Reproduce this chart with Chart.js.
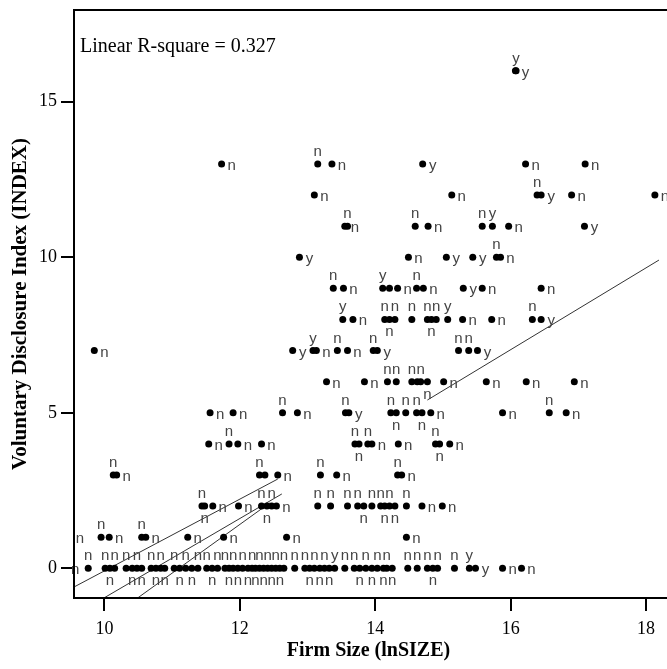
<!DOCTYPE html>
<html lang="en">
<head>
    <meta charset="UTF-8">
    <title>Firm Size vs Voluntary Disclosure</title>
    <style>
        body {
            margin: 0;
            padding: 0;
            background-color: #fff;
            overflow: hidden;
        }
    </style>
</head>
<body>

<canvas id="sizeChart" width="667" height="669"></canvas>

<script src="https://cdn.jsdelivr.net/npm/chart.js"></script>

<script>
    // Disclosure index values that have firms, and the firm sizes read for each of them
    const indexLevels = [0, 1, 2, 3, 4, 5, 6, 7, 8, 9, 10, 11, 12, 13, 16];

    const firmSizeByLevel = [
        [9.42, 9.76, 10.01, 10.08, 10.15, 10.32, 10.41, 10.48, 10.55, 10.69, 10.76, 10.83, 10.89,
         11.03, 11.11, 11.20, 11.29, 11.38, 11.51, 11.59, 11.67, 11.78, 11.84, 11.90, 11.97,
         12.04, 12.12, 12.18, 12.23, 12.29, 12.35, 12.41, 12.47, 12.53, 12.59, 12.65, 12.81,
         12.96, 13.03, 13.10, 13.18, 13.25, 13.32, 13.40, 13.55, 13.69, 13.77, 13.86, 13.95,
         14.03, 14.12, 14.17, 14.25, 14.48, 14.62, 14.77, 14.85, 14.92, 15.17, 15.39, 15.48,
         15.88, 16.16],
        [9.49, 9.95, 10.07, 10.55, 10.61, 11.23, 11.76, 12.69, 14.46],
        [11.44, 11.48, 11.60, 11.98, 12.32, 12.40, 12.47, 12.54, 13.15, 13.34, 13.59, 13.74,
         13.83, 13.95, 14.08, 14.14, 14.21, 14.29, 14.46, 14.69, 14.99],
        [10.13, 10.18, 12.29, 12.37, 12.56, 13.19, 13.43, 14.33, 14.39],
        [11.54, 11.84, 11.97, 12.32, 13.70, 13.76, 13.89, 13.95, 14.34, 14.89, 14.95, 15.10],
        [11.56, 11.90, 12.63, 12.85, 13.56, 13.61, 14.23, 14.31, 14.45, 14.61, 14.69, 14.82,
         15.88, 16.57, 16.82],
        [13.28, 13.84, 14.18, 14.31, 14.54, 14.62, 14.67, 14.77, 15.01, 15.64, 16.23, 16.94],
        [9.85, 12.78, 13.08, 13.13, 13.44, 13.59, 13.97, 14.03, 15.23, 15.38, 15.51],
        [13.52, 13.67, 14.14, 14.21, 14.29, 14.54, 14.77, 14.83, 14.90, 15.07, 15.29, 15.72,
         16.32, 16.45],
        [13.38, 13.53, 14.11, 14.21, 14.33, 14.61, 14.71, 15.30, 15.58, 16.45],
        [12.88, 14.49, 15.05, 15.44, 15.79, 15.85],
        [13.55, 13.59, 14.59, 14.78, 15.58, 15.73, 15.97, 17.09],
        [13.10, 15.13, 16.39, 16.45, 16.90, 18.13],
        [11.73, 13.15, 13.36, 14.70, 16.22, 17.10],
        [16.07, 16.08]
    ];

    // group letter shown beside each firm (same order as above)
    const groupByLevel = [
        'nnnnnnnnnnnnnnnnnnnnnnnnnnnnnnnnnnnnnnnnnnnynnnnnnnnnnnnnnnyynn',
        'nnnnnnnnn',
        'nnnnnnnnnnnnnnnnnnnnn',
        'nnnnnnnnn',
        'nnnnnnnnnnnn',
        'nnnnnynnnnnnnnn',
        'nnnnnnnnnnnn',
        'nyynnnnynny',
        'ynnnnnnnnynnny',
        'nnynnnnynn',
        'ynyynn',
        'nnnnnyny',
        'nnnynn',
        'nnnynn',
        'yy'
    ];

    // line segments drawn on the plot
    const fitLine = [{x: 14.77, y: 5.41}, {x: 18.19, y: 9.91}];
    const lowerLineA = [{x: 9.56, y: -0.59}, {x: 12.56, y: 2.87}];
    const lowerLineB = [{x: 9.98, y: -0.97}, {x: 12.62, y: 2.39}];
    const lowerLineC = [{x: 10.48, y: -0.97}, {x: 12.44, y: 2.10}];

    const xTicks = [10, 12, 14, 16, 18];
    const yTicks = [0, 5, 10, 15];
    const fitNote = 'Linear R-square = 0.327';

    const points = [];
    indexLevels.forEach((level, r) => {
        firmSizeByLevel[r].forEach((size, i) => {
            points.push({x: size, y: level, g: groupByLevel[r][i] || 'n'});
        });
    });

    function overlaps(a, b) {
        return a.x < b.x + b.w && a.x + a.w > b.x && a.y < b.y + b.h && a.y + a.h > b.y;
    }

    // put each letter right of its dot, else above, else below, else leave it out
    const pointLabels = {
        id: 'pointLabels',
        afterDatasetsDraw(chart) {
            const meta = chart.getDatasetMeta(0);
            const ctx = chart.ctx;
            const taken = meta.data.map(p => ({x: p.x - 3.5, y: p.y - 3.5, w: 7, h: 7}));
            ctx.save();
            ctx.font = '15px "Liberation Sans", Arial, sans-serif';
            ctx.fillStyle = '#444';
            ctx.textAlign = 'center';
            ctx.textBaseline = 'alphabetic';
            meta.data.forEach((p, i) => {
                const text = points[i].g;
                const spots = [[p.x + 10, p.y + 6], [p.x, p.y - 8], [p.x, p.y + 17]];
                for (const [cx, by] of spots) {
                    const box = {x: cx - 3.5, y: by - 8.5, w: 7, h: 8.5};
                    if (!taken.some(o => overlaps(box, o))) {
                        taken.push(box);
                        ctx.fillText(text, cx, by);
                        break;
                    }
                }
            });
            ctx.restore();
        }
    };

    const frame = {
        id: 'frame',
        afterDraw(chart) {
            const {ctx, chartArea: a} = chart;
            ctx.save();
            ctx.strokeStyle = '#000';
            ctx.lineWidth = 2;
            ctx.beginPath();
            ctx.moveTo(a.right + 4, a.top);
            ctx.lineTo(a.left, a.top);
            ctx.lineTo(a.left, a.bottom);
            ctx.lineTo(a.right + 4, a.bottom);
            ctx.stroke();
            ctx.font = '20px "Liberation Serif", "Times New Roman", serif';
            ctx.fillStyle = '#000';
            ctx.fillText(fitNote, a.left + 6, a.top + 42);
            ctx.restore();
        }
    };

    const lineStyle = {
        type: 'line',
        borderColor: '#333',
        borderWidth: 1,
        pointRadius: 0,
        fill: false
    };

    const serif = '"Liberation Serif", "Times New Roman", serif';

    const ctx = document.getElementById('sizeChart').getContext('2d');
    const sizeChart = new Chart(ctx, {
        type: 'scatter',
        data: {
            datasets: [
                {
                    label: 'Firms',
                    data: points,
                    pointRadius: 3.5,
                    pointBackgroundColor: '#000',
                    pointBorderWidth: 0
                },
                Object.assign({data: fitLine}, lineStyle),
                Object.assign({data: lowerLineA}, lineStyle),
                Object.assign({data: lowerLineB}, lineStyle),
                Object.assign({data: lowerLineC}, lineStyle)
            ]
        },
        options: {
            responsive: false,
            animation: false,
            devicePixelRatio: 1,
            layout: {
                padding: {left: 0, top: 10, right: 0, bottom: 0}
            },
            plugins: {
                legend: {display: false},
                tooltip: {enabled: false}
            },
            scales: {
                x: {
                    type: 'linear',
                    min: 9.55,
                    max: 18.25,
                    afterBuildTicks: axis => { axis.ticks = xTicks.map(v => ({value: v})); },
                    afterFit: axis => {
                        axis.height = 71;
                        axis.paddingLeft = 0;
                        axis.paddingRight = 0;
                    },
                    border: {display: false},
                    grid: {
                        drawOnChartArea: false,
                        drawTicks: true,
                        tickLength: 13,
                        color: '#000',
                        lineWidth: 2
                    },
                    ticks: {
                        autoSkip: false,
                        maxRotation: 0,
                        padding: 7,
                        color: '#000',
                        font: {family: serif, size: 18}
                    },
                    title: {
                        display: true,
                        text: 'Firm Size (lnSIZE)',
                        color: '#000',
                        padding: {top: 0, bottom: 6},
                        font: {family: serif, size: 20, weight: 'bold'}
                    }
                },
                y: {
                    type: 'linear',
                    min: -0.955,
                    max: 17.95,
                    afterBuildTicks: axis => { axis.ticks = yTicks.map(v => ({value: v})); },
                    afterFit: axis => {
                        axis.width = 74;
                        axis.paddingTop = 0;
                        axis.paddingBottom = 0;
                    },
                    border: {display: false},
                    grid: {
                        drawOnChartArea: false,
                        drawTicks: true,
                        tickLength: 13,
                        color: '#000',
                        lineWidth: 2
                    },
                    ticks: {
                        padding: 4,
                        color: '#000',
                        font: {family: serif, size: 18}
                    },
                    title: {
                        display: true,
                        text: 'Voluntary Disclosure Index (INDEX)',
                        color: '#000',
                        padding: {top: 8, bottom: 0},
                        font: {family: serif, size: 21, weight: 'bold'}
                    }
                }
            }
        },
        plugins: [pointLabels, frame]
    });
</script>

</body>
</html>
